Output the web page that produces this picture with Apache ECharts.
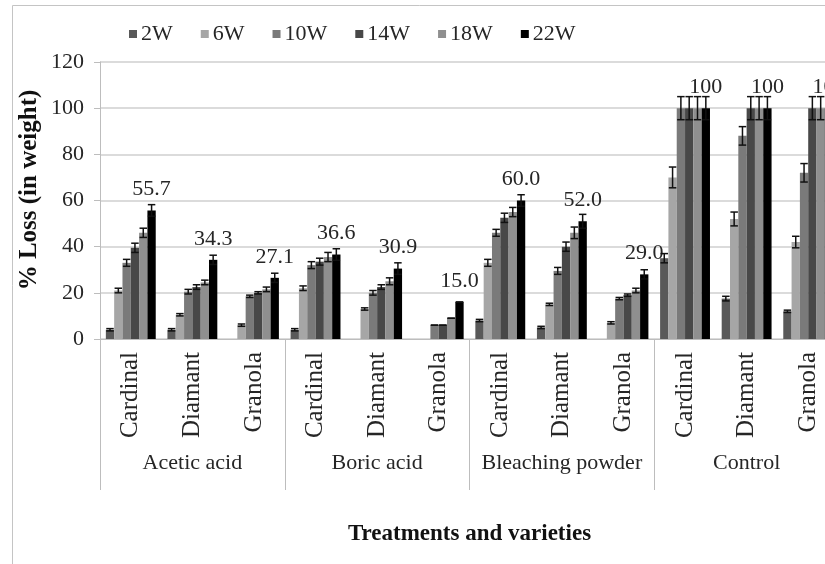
<!DOCTYPE html>
<html>
<head>
<meta charset="utf-8">
<script src="https://cdn.jsdelivr.net/npm/echarts@6/dist/echarts.min.js"></script>
<style>
  html, body { margin: 0; padding: 0; background: #fff; }
  #chart { width: 825px; height: 564px; }
</style>
</head>
<body>
<div id="chart"></div>
<script>
// varieties (inner axis) and treatments (outer axis)
const varieties = ["Cardinal", "Diamant", "Granola", "Cardinal", "Diamant", "Granola",
                   "Cardinal", "Diamant", "Granola", "Cardinal", "Diamant", "Granola"];
const treatments = ["Acetic acid", "Boric acid", "Bleaching powder", "Control"];
const weeks = ["2W", "6W", "10W", "14W", "18W", "22W"];

// % loss per week
const w2  = [4, 4, 0, 4, 0, 0, 8, 5, 0, 35, 17.5, 12];
const w6  = [21, 10.5, 6, 22, 13, 0, 33, 15, 7, 70, 52, 42];
const w10 = [33, 20.5, 18.5, 32, 20, 6, 46, 29.5, 17.5, 100, 88, 72];
const w14 = [39.5, 22.5, 20, 33.5, 22.5, 6, 52.5, 40, 19, 100, 100, 100];
const w18 = [46, 24.5, 21.5, 35.5, 25, 9, 55, 46, 21, 100, 100, 100];
const w22 = [55.7, 34.3, 26.5, 36.6, 30.5, 16, 60, 51, 28, 100, 100, 100];

// error bar half-lengths
const e2  = [0.5, 0.5, 0, 0.5, 0, 0, 0.5, 0.5, 0, 2, 1, 0.5];
const e6  = [1, 0.5, 0.5, 1, 0.5, 0, 1.5, 0.5, 0.5, 4.5, 3, 2.5];
const e10 = [1.5, 1, 0.5, 1.5, 1, 0, 1.5, 1.5, 0.5, 5, 4, 4];
const e14 = [2, 1, 0.5, 1.5, 1, 0, 2, 2, 0.5, 5, 5, 5];
const e18 = [2, 1, 1, 2, 1.5, 0, 2, 2.5, 1, 5, 5, 5];
const e22 = [2.5, 2, 2, 2.5, 2.5, 0, 2.5, 3, 2, 5, 5, 5];

// labels printed above the 22W bars
const w22Labels = ["55.7", "34.3", "27.1", "36.6", "30.9", "15.0", "60.0", "52.0", "29.0", "100", "100", "100"];

const values = [w2, w6, w10, w14, w18, w22];
const errors = [e2, e6, e10, e14, e18, e22];
const colors = ["#595959", "#a6a6a6", "#7a7a7a", "#484848", "#8f8f8f", "#000000"];

const FONT = "Liberation Serif";
const GAP = 0.19;

const chart = echarts.init(document.getElementById("chart"), null, { renderer: "canvas" });

function errorRenderer(si) {
  return (params, api) => {
    const idx = api.value(0), v = api.value(1), e = api.value(2);
    if (!(v > 0)) return null;
    const band = api.size([1, 0])[0];
    const barW = band * (1 - GAP) / weeks.length;
    const c = api.coord([idx, v]);
    const x = c[0] - band * (1 - GAP) / 2 + (si + 0.5) * barW;
    const yHi = api.coord([idx, v + e])[1];
    const yLo = api.coord([idx, v - e])[1];
    const hw = barW * 0.45;
    const style = { stroke: "#111", lineWidth: 1.5 };
    return {
      type: "group",
      children: [
        { type: "line", shape: { x1: x, y1: yHi, x2: x, y2: yLo }, style },
        { type: "line", shape: { x1: x - hw, y1: yHi, x2: x + hw, y2: yHi }, style },
        { type: "line", shape: { x1: x - hw, y1: yLo, x2: x + hw, y2: yLo }, style },
      ],
    };
  };
}

const series = [];
weeks.forEach((w, i) => {
  series.push({
    name: w,
    type: "bar",
    xAxisIndex: 0,
    barGap: "0%",
    barCategoryGap: (GAP * 100) + "%",
    itemStyle: { color: colors[i] },
    data: values[i],
    label: i === weeks.length - 1 ? {
      show: true,
      position: "top",
      distance: 10,
      formatter: p => w22Labels[p.dataIndex],
      fontFamily: FONT,
      fontSize: 22,
      color: "#262626",
    } : { show: false },
    z: 2,
  });
});
weeks.forEach((w, i) => {
  series.push({
    name: "err" + w,
    type: "custom",
    xAxisIndex: 0,
    renderItem: errorRenderer(i),
    data: values[i].map((v, k) => [k, v, errors[i][k]]),
    z: 5,
    silent: true,
  });
});

chart.setOption({
  animation: false,
  backgroundColor: "#fff",
  textStyle: { fontFamily: FONT },
  graphic: [{
    type: "rect",
    shape: { x: 12.5, y: 5.5, width: 900, height: 700 },
    style: { fill: "none", stroke: "#c4c4c4", lineWidth: 1 },
    silent: true,
  }, {
    type: "text",
    x: 30,
    y: 190,
    rotation: Math.PI / 2,
    style: {
      text: "% Loss (in weight)",
      font: "bold 25px 'Liberation Serif'",
      fill: "#111",
      align: "center",
      verticalAlign: "middle",
    },
  }],
  legend: {
    data: weeks,
    left: 124,
    top: 18,
    icon: "rect",
    itemWidth: 8,
    itemHeight: 8,
    itemGap: 28,
    textStyle: { fontFamily: FONT, fontSize: 22, color: "#262626", padding: [0, 0, 0, -1] },
  },
  grid: { left: 100, top: 62, width: 739, height: 277, outerBoundsMode: "none" },
  xAxis: [{
    type: "category",
    position: "bottom",
    data: varieties,
    axisLine: { lineStyle: { color: "#bdbdbd", width: 1 } },
    axisTick: { show: false },
    axisLabel: { rotate: 90, interval: 0, margin: 13, fontFamily: FONT, fontSize: 25, color: "#262626" },
  }, {
    type: "category",
    position: "bottom",
    data: treatments,
    axisLine: { show: false },
    axisTick: { show: true, length: 151, lineStyle: { color: "#bdbdbd", width: 1 } },
    axisLabel: { interval: 0, margin: 113, fontFamily: FONT, fontSize: 22, color: "#262626" },
    name: "Treatments and varieties",
    nameLocation: "middle",
    nameGap: 184,
    nameTextStyle: { fontFamily: FONT, fontSize: 23, fontWeight: "bold", color: "#111" },
  }],
  yAxis: {
    type: "value",
    min: 0,
    max: 120,
    interval: 20,
    axisLine: { show: true, lineStyle: { color: "#bdbdbd", width: 1 } },
    axisTick: { show: true, length: 6, lineStyle: { color: "#bdbdbd" } },
    axisLabel: { margin: 16, fontFamily: FONT, fontSize: 22, color: "#262626" },
    splitLine: { lineStyle: { color: "#cfcfcf", width: 1.5 } },
  },
  series,
});
</script>
</body>
</html>
